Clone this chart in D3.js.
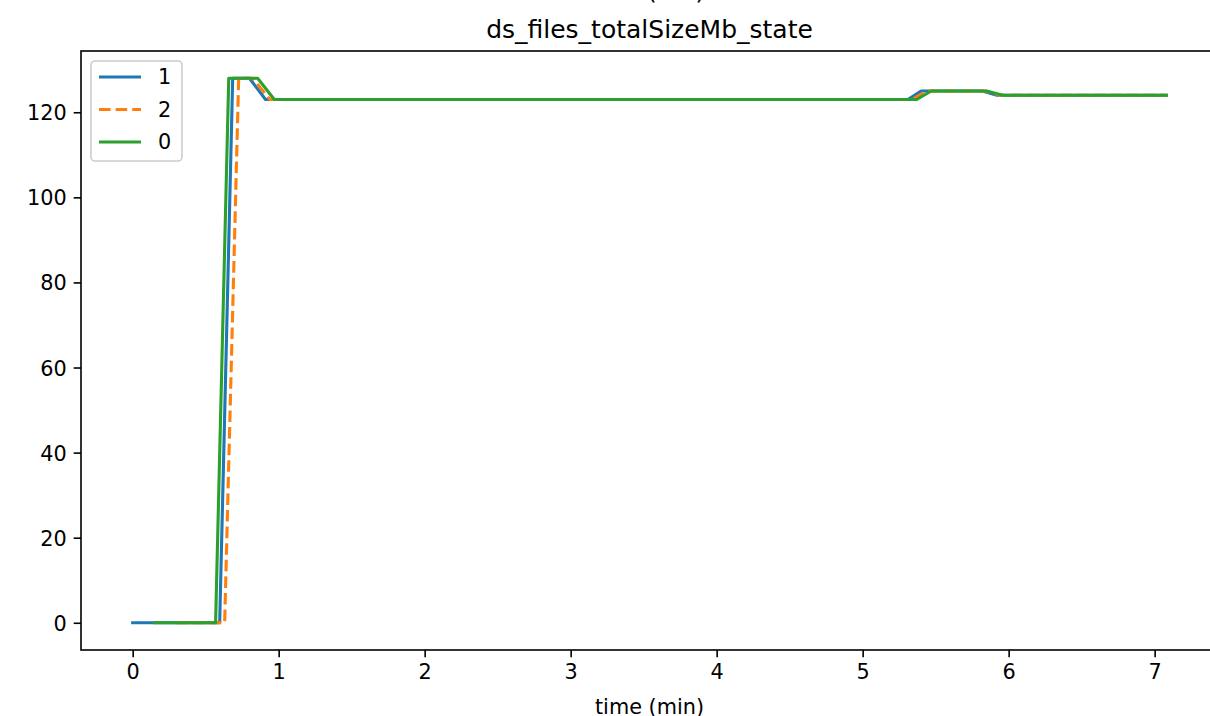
<!DOCTYPE html>
<html><head><meta charset="utf-8">
<script src="https://cdn.jsdelivr.net/npm/d3@7"></script>
<style>body{margin:0;background:#fff;} svg{display:block;font-family:"DejaVu Sans",sans-serif;}</style>
</head><body>
<svg id="c" width="1210" height="716"></svg>
<script>
const seriesNames = ["1", "2", "0"];
const seriesColors = ["#1f77b4", "#ff7f0e", "#2ca02c"];
const seriesDash = [null, "11.6,5", null];
// time (min), value
const t1 = [0, 0.596, 0.685, 0.80, 0.91, 5.31, 5.40, 5.82, 5.92, 7.08];
const v1 = [0, 0, 128, 128, 123, 123, 125, 125, 124, 124];
const t2 = [0.30, 0.630, 0.726, 0.82, 0.94, 5.34, 5.44, 5.84, 5.94, 7.08];
const v2 = [0, 0, 128, 128, 123, 123, 125, 125, 124, 124];
const t0 = [0.15, 0.568, 0.658, 0.856, 0.97, 5.37, 5.47, 5.85, 5.96, 7.08];
const v0 = [0, 0, 128, 128, 123, 123, 125, 125, 124, 124];
const xTicks = [0, 1, 2, 3, 4, 5, 6, 7];
const yTicks = [0, 20, 40, 60, 80, 100, 120];
const title = "ds_files_totalSizeMb_state";
const xLabel = "time (min)";

const svg = d3.select("#c");
const L = 81, R = 1218, T = 51, B = 650;
const x = d3.scaleLinear().domain([-0.354, 7.434]).range([L, R]);
const y = d3.scaleLinear().domain([-6.4, 134.4]).range([B, T]);

const series = [[t1, v1], [t2, v2], [t0, v0]];
const line = d3.line().x(d => x(d[0])).y(d => y(d[1]));
series.forEach((s, i) => {
  const pts = s[0].map((tt, j) => [tt, s[1][j]]);
  svg.append("path").attr("d", line(pts)).attr("fill", "none")
    .attr("stroke", seriesColors[i]).attr("stroke-width", 3.1)
    .attr("stroke-linejoin", "round")
    .attr("stroke-linecap", seriesDash[i] ? "butt" : "square")
    .attr("stroke-dasharray", seriesDash[i]);
});

// axes
const xAxis = d3.axisBottom(x).tickValues(xTicks).tickSize(7.3).tickPadding(7).tickFormat(d3.format("d"));
const yAxis = d3.axisLeft(y).tickValues(yTicks).tickSize(7.3).tickPadding(7).tickFormat(d3.format("d"));
const gx = svg.append("g").attr("transform", `translate(0,${B})`).call(xAxis);
const gy = svg.append("g").attr("transform", `translate(${L},0)`).call(yAxis);
[gx, gy].forEach(g => {
  g.select(".domain").remove();
  g.selectAll(".tick line").attr("stroke", "#000").attr("stroke-width", 1.6);
  g.selectAll(".tick text").attr("fill", "#000").attr("font-size", 20.8).attr("font-family", "DejaVu Sans");
});
gy.selectAll(".tick text").attr("dy", "0.36em");
// spines
svg.append("rect").attr("x", L).attr("y", T).attr("width", R - L).attr("height", B - T)
  .attr("fill", "none").attr("stroke", "#000").attr("stroke-width", 1.6);

// titles
svg.append("text").attr("x", (L + R) / 2).attr("y", 38).attr("text-anchor", "middle")
  .attr("font-size", 25).text(title);
svg.append("text").attr("x", 676).attr("y", -1).attr("text-anchor", "middle")
  .attr("font-size", 25).text("(MB)");
svg.append("text").attr("x", (L + R) / 2).attr("y", 714).attr("text-anchor", "middle")
  .attr("font-size", 20.8).text(xLabel);

// legend
const lg = svg.append("g");
lg.append("rect").attr("x", 91).attr("y", 61).attr("width", 91).attr("height", 100)
  .attr("rx", 4).attr("fill", "#fff").attr("fill-opacity", 0.8)
  .attr("stroke", "#cccccc").attr("stroke-width", 1.6);
seriesNames.forEach((n, i) => {
  const yy = 77 + i * 32.5;
  lg.append("line").attr("x1", 99).attr("x2", 141).attr("y1", yy).attr("y2", yy)
    .attr("stroke", seriesColors[i]).attr("stroke-width", 3.1)
    .attr("stroke-dasharray", seriesDash[i]);
  lg.append("text").attr("x", 158).attr("y", yy).attr("dy", "0.36em")
    .attr("font-size", 20.8).text(n);
});
</script>
</body></html>
